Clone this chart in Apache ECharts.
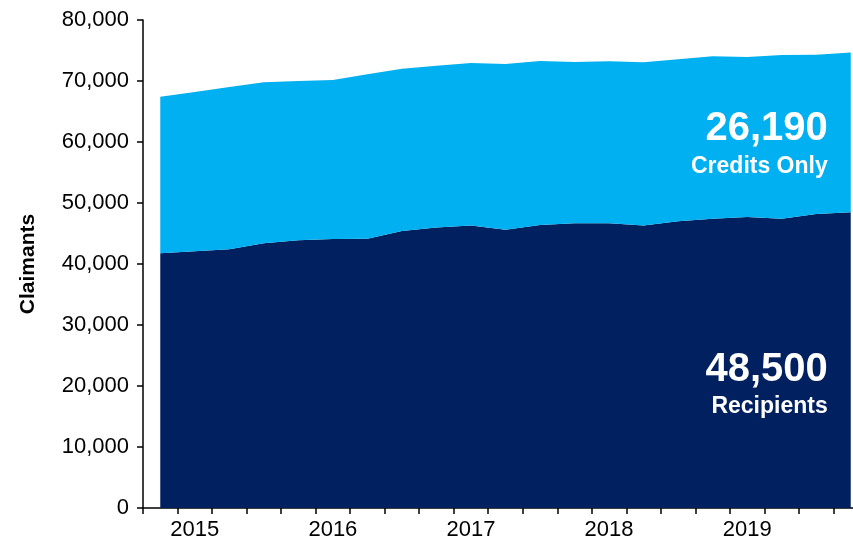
<!DOCTYPE html>
<html>
<head>
<meta charset="utf-8">
<script src="https://cdn.jsdelivr.net/npm/echarts@6/dist/echarts.min.js"></script>
<style>html,body{margin:0;padding:0;background:#fff}#c{width:853px;height:547px}</style>
</head>
<body>
<div id="c"></div>
<script>
const quarters = ['2014 Q4',
  '2015 Q1','2015 Q2','2015 Q3','2015 Q4',
  '2016 Q1','2016 Q2','2016 Q3','2016 Q4',
  '2017 Q1','2017 Q2','2017 Q3','2017 Q4',
  '2018 Q1','2018 Q2','2018 Q3','2018 Q4',
  '2019 Q1','2019 Q2','2019 Q3','2019 Q4'];
const recipients = [41750, 42100, 42400, 43400, 43900, 44100, 44150, 45400, 46000, 46300, 45600,
  46400, 46700, 46700, 46300, 47000, 47400, 47700, 47400, 48200, 48500];
const creditsOnly = [25680, 26100, 26600, 26390, 26100, 26060, 26950, 26620, 26500, 26650, 27190,
  26880, 26410, 26520, 26760, 26550, 26650, 26230, 26860, 26110, 26190];
const yTicks = [0, 10000, 20000, 30000, 40000, 50000, 60000, 70000, 80000];
const seriesNames = ['Recipients', 'Credits Only'];

const fmt = v => v.toLocaleString('en-US');
const font = '"Liberation Sans", Arial, sans-serif';

const chart = echarts.init(document.getElementById('c'), null, {renderer: 'canvas'});

function endLabel(offsetY) {
  return {
    show: true,
    formatter: p => '{v|' + fmt(p.value) + '}\n{n|' + p.seriesName + '}',
    align: 'right',
    verticalAlign: 'middle',
    offset: [-31, offsetY],
    rich: {
      v: {fontFamily: font, fontWeight: 'bold', fontSize: 40, color: '#fff', lineHeight: 44, align: 'right'},
      n: {fontFamily: font, fontWeight: 'bold', fontSize: 23, color: '#fff', lineHeight: 30, align: 'right'}
    }
  };
}

chart.setOption({
  animation: false,
  grid: {left: 143, right: -15, top: 20, bottom: 39, outerBoundsMode: 'none', containLabel: false},
  xAxis: {
    type: 'category',
    data: quarters,
    boundaryGap: true,
    axisLine: {lineStyle: {color: '#000', width: 1.5}},
    axisTick: {show: true, interval: 0, length: 6, lineStyle: {color: '#000', width: 1.5}},
    axisLabel: {
      interval: i => i % 4 === 1,
      formatter: v => v.slice(0, 4),
      fontFamily: font, fontSize: 22, color: '#000', margin: 11
    },
    splitLine: {show: false}
  },
  yAxis: {
    type: 'value',
    min: yTicks[0], max: yTicks[yTicks.length - 1], interval: 10000,
    name: 'Claimants',
    nameLocation: 'middle',
    nameGap: 104,
    nameTextStyle: {fontFamily: font, fontWeight: 'bold', fontSize: 21, color: '#000'},
    axisLine: {show: true, lineStyle: {color: '#000', width: 1.5}},
    axisTick: {show: true, length: 6, lineStyle: {color: '#000', width: 1.5}},
    axisLabel: {formatter: v => fmt(v), fontFamily: font, fontSize: 22, color: '#000', margin: 14},
    splitLine: {show: false}
  },
  series: [
    {
      name: seriesNames[0], type: 'line', stack: 'total', data: recipients,
      showSymbol: false, symbol: 'none',
      lineStyle: {width: 0}, areaStyle: {color: '#002060', opacity: 1},
      itemStyle: {color: '#002060'},
      endLabel: endLabel(173)
    },
    {
      name: seriesNames[1], type: 'line', stack: 'total', data: creditsOnly,
      showSymbol: false, symbol: 'none',
      lineStyle: {width: 0}, areaStyle: {color: '#00B0F0', opacity: 1},
      itemStyle: {color: '#00B0F0'},
      endLabel: endLabel(92)
    }
  ]
});
</script>
</body>
</html>
